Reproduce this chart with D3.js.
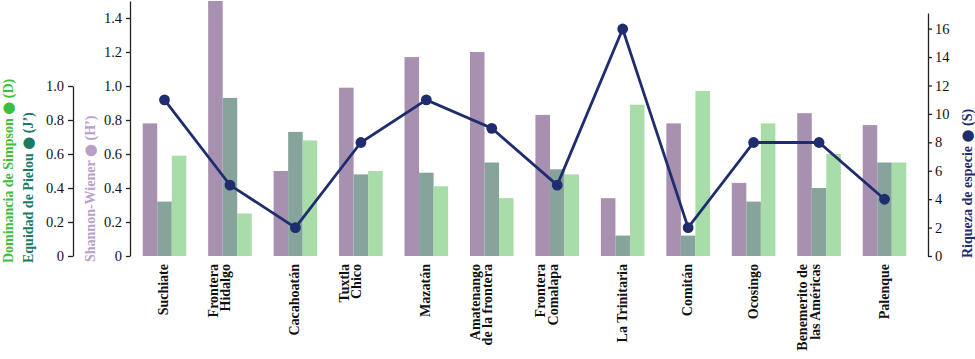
<!DOCTYPE html>
<html><head><meta charset="utf-8">
<script src="https://cdn.jsdelivr.net/npm/d3@7"></script>
<style>body{margin:0;background:#fff}svg{display:block}</style>
</head><body>
<svg id="c" width="975" height="359"></svg>
<script>
const categories = [["Suchiate"],["Frontera","Hidalgo"],["Cacahoatán"],["Tuxtla","Chico"],["Mazatán"],["Amatenango","de la frontera"],["Frontera","Comalapa"],["La Trinitaria"],["Comitán"],["Ocosingo"],["Benemerito de","las Américas"],["Palenque"]];
const shannon = [0.78,1.50,0.50,0.99,1.17,1.20,0.83,0.34,0.78,0.43,0.84,0.77];
const pielou  = [0.32,0.93,0.73,0.48,0.49,0.55,0.51,0.12,0.12,0.32,0.40,0.55];
const simpson = [0.59,0.25,0.68,0.50,0.41,0.34,0.48,0.89,0.97,0.78,0.60,0.55];
const riqueza = [11,5,2,8,11,9,5,16,2,8,8,4];
const leftTicks = [0,0.2,0.4,0.6,0.8,1.0,1.2,1.4];
const innerTicks = [0,0.2,0.4,0.6,0.8,1.0];
const rightTicks = [0,2,4,6,8,10,12,14,16];
const titles = [["Dominancia de Simpson","(D)"],["Equidad de Pielou","(J’)"],["Shannon-Wiener","(H’)"],["Riqueza de especie","(S)"]];

const C = {sh:"#a890b0", pi:"#86a49c", si:"#a8dca8", ri:"#1f2d6e",
           tSi:"#3cbf3c", tPi:"#1b7a64", tSh:"#b8a0c8"};
const svg = d3.select("#c");
const y0 = 256;
const ids = d3.range(categories.length);
const x = d3.scaleBand().domain(ids).range([142.7, 906.3]).paddingInner(0.334).paddingOuter(0);
const xs = d3.scaleBand().domain(["sh","pi","si"]).range([0, x.bandwidth()]);
const yL = d3.scaleLinear().domain([0,1.5]).range([y0, y0-255]);
const yR = d3.scaleLinear().domain([0,16]).range([y0, 29]);

const serif = "'Liberation Serif','Times New Roman',serif";
const series = [["sh",shannon,C.sh],["pi",pielou,C.pi],["si",simpson,C.si]];
series.forEach(([k,vals,col])=>{
  svg.append("g").selectAll("rect").data(vals).join("rect")
    .attr("x",(d,i)=>x(i)+xs(k)).attr("width",xs.bandwidth())
    .attr("y",d=>yL(d)).attr("height",d=>y0-yL(d)).attr("fill",col);
});

function styleAxis(g){
  g.selectAll("path,line").attr("stroke","#222").attr("stroke-width",1.3);
  g.selectAll("text").attr("font-family",serif).attr("font-size",14.5).attr("fill","#111");
}
const fmt = d=> d===0 ? "0" : d3.format(".1f")(d);
svg.append("g").attr("transform","translate(130,0)")
  .call(d3.axisLeft(d3.scaleLinear().domain([0,1.5]).range([y0,1])).tickValues(leftTicks).tickFormat(fmt).tickSize(4).tickSizeOuter(0).tickPadding(4))
  .call(styleAxis);
svg.append("g").attr("transform","translate(73,0)")
  .call(d3.axisLeft(d3.scaleLinear().domain([0,1]).range([y0,y0-170])).tickValues(innerTicks).tickFormat(fmt).tickSize(5).tickSizeOuter(0).tickPadding(4))
  .call(styleAxis);
svg.append("g").attr("transform","translate(928,0)")
  .call(d3.axisRight(d3.scaleLinear().domain([0,17.1]).range([y0,13])).tickValues(rightTicks).tickSize(4).tickSizeOuter(0).tickPadding(3))
  .call(styleAxis);

const cx = i => x(i)+x.bandwidth()/2;
svg.append("path").datum(riqueza)
  .attr("d", d3.line().x((d,i)=>cx(i)).y(d=>yR(d)))
  .attr("fill","none").attr("stroke",C.ri).attr("stroke-width",2.8);
svg.append("g").selectAll("circle").data(riqueza).join("circle")
  .attr("cx",(d,i)=>cx(i)).attr("cy",d=>yR(d)).attr("r",5.4).attr("fill",C.ri);

categories.forEach((lines,i)=>{
  const n = lines.length;
  lines.forEach((t,j)=>{
    const xx = cx(i) + (n===1 ? 4 : (j===0 ? -12 : 0.5));
    svg.append("text").attr("transform",`translate(${xx},264) rotate(-90)`)
      .attr("text-anchor","end").attr("font-family",serif).attr("font-weight","bold")
      .attr("font-size",14).attr("fill","#111").text(t);
  });
});

function vtitle(xx, yy, parts, col){
  const t = svg.append("text").attr("transform",`translate(${xx},${yy}) rotate(-90)`)
    .attr("text-anchor","start").attr("font-family",serif).attr("font-weight","bold")
    .attr("font-size",14).attr("fill",col);
  t.append("tspan").text(parts[0]+" ");
  t.append("tspan").attr("font-size",15).attr("font-family","'DejaVu Sans',sans-serif").text("●");
  t.append("tspan").text(" "+parts[1]);
}
vtitle(13, 263, titles[0], C.tSi);
vtitle(33, 263, titles[1], C.tPi);
vtitle(95, 262, titles[2], C.tSh);
vtitle(972, 258, titles[3], C.ri);
</script>
</body></html>
